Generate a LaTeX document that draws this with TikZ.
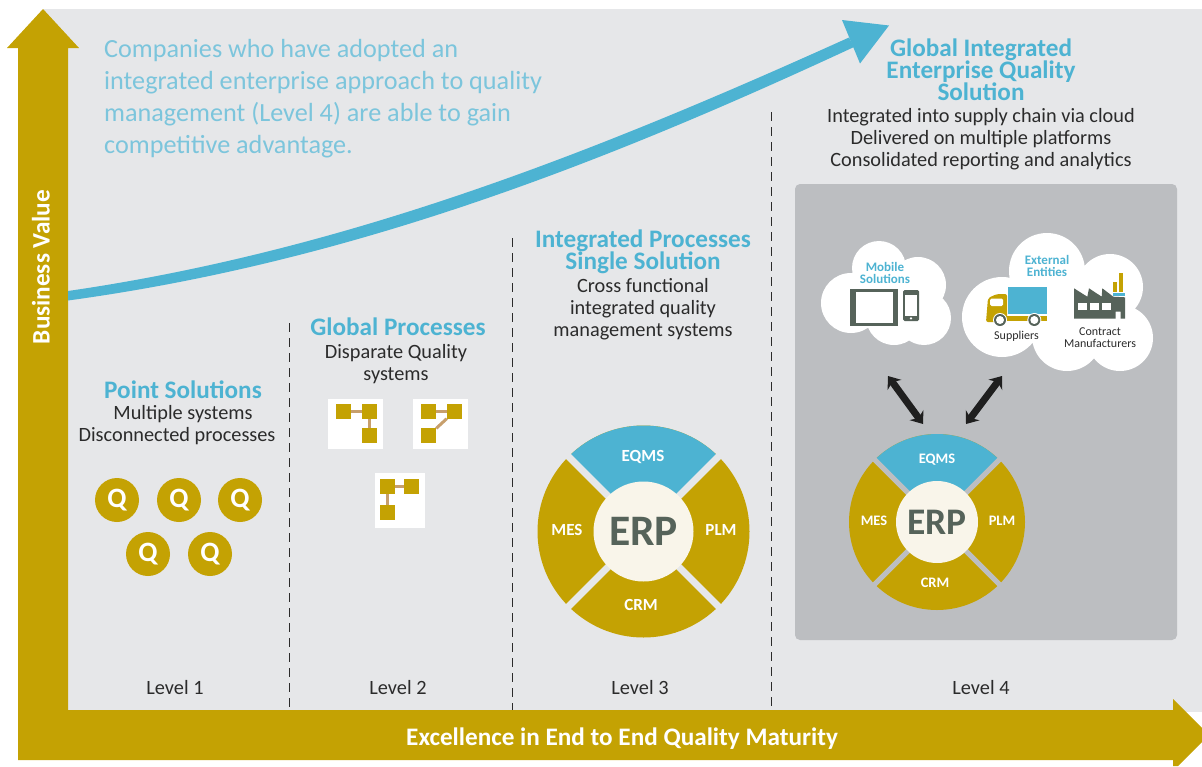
\documentclass[tikz,border=0pt]{standalone}
\usepackage{fontspec}
\setmainfont{Carlito}
\usetikzlibrary{arrows.meta}
\definecolor{gold}{HTML}{C4A203}
\definecolor{sky}{HTML}{4DB3D2}
\definecolor{softsky}{HTML}{7CC5DC}
\definecolor{paper}{HTML}{E6E7E9}
\definecolor{panel}{HTML}{BCBEC1}
\definecolor{hubfill}{HTML}{F9F5EA}
\definecolor{slate}{HTML}{56635A}
\definecolor{ink}{HTML}{2B2B2B}
\definecolor{linkc}{HTML}{C79F6C}
\tikzset{body/.style = {font=\fontsize{20.3}{22}\selectfont, align=center, text=ink, inner sep=0}}
\tikzset{head/.style = {font=\fontsize{25.2}{22}\selectfont\bfseries, align=center, text=sky, inner sep=0}}
\tikzset{axis/.style = {font=\fontsize{25.2}{26}\selectfont\bfseries, text=white, inner sep=0}}
\tikzset{qdot/.style = {circle, fill=gold, minimum size=44, inner sep=0, text=white, font=\fontsize{28}{28}\selectfont\bfseries}}
\tikzset{tile/.style = {fill=white}}
\tikzset{sq/.style = {fill=gold, minimum size=15, inner sep=0}}
\tikzset{link/.style = {draw=linkc, line width=3}}
\tikzset{seg/.style = {text=white, inner sep=0, font=\fontsize{17}{17}\selectfont\bfseries}}
\tikzset{segs/.style = {text=white, inner sep=0, font=\fontsize{14.5}{14.5}\selectfont\bfseries}}
\tikzset{hub/.style = {circle, fill=hubfill, inner sep=0, text=slate, font=\bfseries}}
\tikzset{cloudhead/.style = {font=\fontsize{13}{12}\selectfont\bfseries, align=center, text=sky, inner sep=0}}
\tikzset{cloudtext/.style = {font=\fontsize{12}{12}\selectfont, align=center, text=ink, inner sep=0}}
\tikzset{dbl/.style = {{Stealth[length=11,width=17]}-{Stealth[length=11,width=17]}, line width=7, draw=black!88}}
\tikzset{lvl/.style = {dash pattern=on 9pt off 6pt, line width=0.8, draw=ink}}
\begin{document}
\begin{tikzpicture}[x=1pt, y=-1pt]
    \useasboundingbox (0, 0) rectangle (1202, 766);
    \fill [paper] (43, 9) rectangle (1202, 712);
    % axes
    \fill [gold] (43, 9) -- (79, 48) -- (68, 48) -- (68, 710) -- (1173, 710) -- (1173, 699)
        -- (1202, 728) -- (1202, 742) -- (1178, 766) -- (1173, 766) -- (1173, 760)
        -- (18, 760) -- (18, 48) -- (7, 48) -- cycle;
    \node [axis, rotate=90] (yaxis) at (41, 267) {Business Value};
    \node [axis] (xaxis) at (622, 739) {Excellence in End to End Quality Maturity};
    % growth curve
    \fill [sky] (68, 291) .. controls (350, 250) and (600, 150) .. (849, 37.5)
        -- (854, 47) .. controls (600, 165) and (350, 262) .. (68, 300.5) -- cycle;
    \fill [sky] (842, 20) -- (889, 25.5) -- (860, 63.5) -- cycle;
    \node [font=\fontsize{26.2}{32}\selectfont, text=softsky, align=left, anchor=west, inner sep=0] (intro)
        at (104, 99) {Companies who have adopted an\\integrated enterprise approach to quality\\management (Level 4) are able to gain\\competitive advantage.};
    % level separators
    \draw [lvl] (289, 323) -- (289, 710);
    \draw [lvl] (512, 238) -- (512, 710);
    \draw [lvl] (771, 112) -- (771, 710);
    \node [body] (lv1) at (175, 688) {Level 1};
    \node [body] (lv2) at (398, 688) {Level 2};
    \node [body] (lv3) at (640, 688) {Level 3};
    \node [body] (lv4) at (981, 688) {Level 4};
    % level 1
    \node [head] (pt) at (183, 390) {Point Solutions};
    \node [body] (ptx) at (183, 414) {Multiple systems};
    \node [body] (pty) at (177, 436) {Disconnected processes};
    \node [qdot] (q1) at (117, 500) {Q};
    \node [qdot] (q2) at (179, 500) {Q};
    \node [qdot] (q3) at (240, 500) {Q};
    \node [qdot] (q4) at (148, 554) {Q};
    \node [qdot] (q5) at (210, 554) {Q};
    % level 2
    \node [head] (gl) at (398, 327) {Global Processes};
    \node [body] (glx) at (396, 364) {Disparate Quality\\systems};
    \fill [tile] (328, 399) rectangle (383, 449);
    \fill [tile] (413, 399) rectangle (468, 449);
    \fill [tile] (375, 473) rectangle (425, 528);
    \node [sq] (a1) at (343.5, 411.5) {};
    \node [sq] (a2) at (369.5, 411.5) {};
    \node [sq] (a3) at (369.5, 435.5) {};
    \draw [link] (a1) -- (a2);
    \draw [link] (a2) -- (a3);
    \node [sq] (b1) at (428.5, 411.5) {};
    \node [sq] (b2) at (454.5, 411.5) {};
    \node [sq] (b3) at (428.5, 435.5) {};
    \draw [link] (b1) -- (b2);
    \draw [link] (b2) -- (b3);
    \node [sq] (c1) at (387.5, 486.5) {};
    \node [sq] (c2) at (411.5, 486.5) {};
    \node [sq] (c3) at (387.5, 512.5) {};
    \draw [link] (c1) -- (c2);
    \draw [link] (c1) -- (c3);
    % level 3
    \node [head] (ip) at (643, 252) {Integrated Processes\\Single Solution};
    \node [body] (ipx) at (643, 309) {Cross functional\\integrated quality\\management systems};
    \coordinate (gc) at (643.5, 531.5);
    \fill [gold] (gc) circle (106);
    \fill [sky] (gc) -- ++(-45:106) arc [start angle=-45, end angle=-135, radius=106] -- cycle;
    \draw [paper, line width=7] (gc) ++(45:112) -- ++(-135:224);
    \draw [paper, line width=7] (gc) ++(135:112) -- ++(-45:224);
    \node [hub, minimum size=100] (erp) at (gc) {\fontsize{43.5}{43.5}\selectfont ERP};
    \node [seg] (eq) at (643, 457) {EQMS};
    \node [seg] (me) at (567, 530) {MES};
    \node [seg] (pl) at (721, 530) {PLM};
    \node [seg] (cr) at (641, 605) {CRM};
    % level 4
    \node [head] (ge) at (981, 70) {Global Integrated\\Enterprise Quality\\Solution};
    \node [body] (gex) at (981, 139) {Integrated into supply chain via cloud\\Delivered on multiple platforms\\Consolidated reporting and analytics};
    \fill [panel, rounded corners=5] (795, 184) rectangle (1177, 640);
    % clouds
    \fill [white] (851, 303) circle (30) (879, 268) circle (27) (918, 285) circle (28)
        (924, 318) circle (27) (894, 317) circle (28) (886, 295) circle (25);
    \fill [white] (1002, 317) circle (40) (1047, 271) circle (38) (1110, 287) circle (33)
        (1120, 338) circle (33) (1067, 336) circle (35) (1065, 305) circle (40);
    \node [cloudhead] (mob) at (885, 273) {Mobile\\Solutions};
    \node [cloudhead] (ext) at (1047, 266) {External\\Entities};
    % tablet and phone
    \fill [slate] (850, 288.7) rectangle (898.3, 325.7);
    \fill [white] (855.7, 291.7) rectangle (892.7, 322.7);
    \fill [slate, rounded corners=1.5] (903, 290) rectangle (919, 321);
    \fill [white] (904.7, 294.7) rectangle (917.3, 316);
    \fill [white] (911, 318.4) circle (1.3);
    % truck
    \fill [sky] (1008.3, 287) rectangle (1047, 314);
    \fill [gold, rounded corners=2] (986, 322) -- (988, 298) -- (997, 294) -- (1007, 294) -- (1007, 322) -- cycle;
    \fill [gold] (1007, 316) rectangle (1047, 321);
    \fill [white, rounded corners=1.5] (990, 298.5) rectangle (1003, 306);
    \fill [white] (1000, 320) circle (7) (1034.3, 320) circle (7);
    \fill [slate] (1000, 320) circle (6) (1034.3, 320) circle (6);
    \fill [white] (1000, 320) circle (4) (1034.3, 320) circle (4);
    \node [cloudtext] (sup) at (1016.5, 336) {Suppliers};
    % factory
    \fill [slate] (1074, 288.3) -- (1087.3, 296.7) -- (1089, 288.3) -- (1101.7, 296.7) -- (1102.3, 288.3)
        -- (1113.3, 296.7) -- (1125, 297.3) -- (1125, 318.7) -- (1120.7, 318.7) -- (1120.7, 311.7)
        -- (1115.7, 311.7) -- (1115.7, 318.7) -- (1074, 318.7) -- cycle;
    \fill [white] (1078, 303) rectangle (1087, 310);
    \fill [white] (1090, 303) rectangle (1099, 310);
    \fill [white] (1102, 303) rectangle (1111, 310);
    \fill [sky] (1112.7, 292.7) rectangle (1125, 296);
    \fill [gold] (1113, 282.3) rectangle (1117, 292);
    \fill [gold] (1119, 273) rectangle (1123, 292);
    \node [cloudtext] (con) at (1100, 338) {Contract\\Manufacturers};
    % arrows to the clouds
    \coordinate (lt) at (888, 376);
    \coordinate (lb) at (923, 424);
    \coordinate (rt) at (1002, 376);
    \coordinate (rb) at (966, 424);
    \draw [dbl] (lt) -- (lb);
    \draw [dbl] (rt) -- (rb);
    % small wheel
    \coordinate (hc) at (937, 522);
    \fill [gold] (hc) circle (88);
    \fill [sky] (hc) -- ++(-45:88) arc [start angle=-45, end angle=-135, radius=88] -- cycle;
    \draw [panel, line width=5] (hc) ++(45:93) -- ++(-135:186);
    \draw [panel, line width=5] (hc) ++(135:93) -- ++(-45:186);
    \node [hub, minimum size=82] (erps) at (hc) {\fontsize{37.5}{37.5}\selectfont ERP};
    \node [segs] (eqs) at (937, 460) {EQMS};
    \node [segs] (mes) at (874, 521) {MES};
    \node [segs] (pls) at (1002, 521) {PLM};
    \node [segs] (crs) at (935, 583) {CRM};
\end{tikzpicture}
\end{document}
